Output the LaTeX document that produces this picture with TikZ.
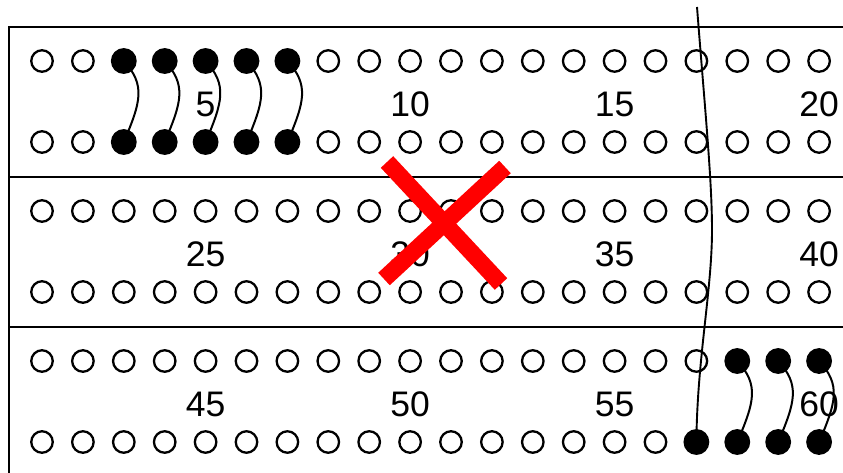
\documentclass[tikz,border=0pt]{standalone}
\usepackage{fontspec}
\setmainfont{Liberation Sans}
\begin{document}
\begin{tikzpicture}[x=1pt,y=-1pt,
  frame/.style={line width=2.4pt},
  hole/.style={circle,draw,line width=2.3pt,minimum size=21.5pt,inner sep=0pt},
  filled/.style={fill=black,minimum size=23.5pt},
  wire/.style={line width=2pt},
  lbl/.style={font=\fontsize{35.5}{42}\selectfont,inner sep=0pt},
  cross/.style={red,line width=17pt}]
\clip (0,0) rectangle (843,473);
% frame
\coordinate (f0) at (9,480);
\coordinate (f1) at (9,27);
\coordinate (f1r) at (860,27);
\coordinate (f2) at (9,177);
\coordinate (f2r) at (860,177);
\coordinate (f3) at (9,327);
\coordinate (f3r) at (860,327);
\draw[frame] (f0) -- (f1) -- (f1r);
\draw[frame] (f2) -- (f2r);
\draw[frame] (f3) -- (f3r);
% holes
\foreach \s/\tp in {1/27,2/177,3/327} {
  \foreach \c in {1,...,20} {
    \pgfmathsetmacro\xx{42+(\c-1)*40.9}
    \pgfmathtruncatemacro\fa{or(and(\s==1,and(\c>2,\c<8)),and(\s==3,\c>17))}
    \pgfmathtruncatemacro\fb{or(\fa,and(\s==3,\c==17))}
    \ifnum\fa=1 \def\sta{filled}\else\def\sta{}\fi
    \ifnum\fb=1 \def\stb{filled}\else\def\stb{}\fi
    \node[hole,\sta] (h-\s-1-\c) at (\xx,\tp+34) {};
    \node[hole,\stb] (h-\s-2-\c) at (\xx,\tp+115) {};
  }
}
% labels
\foreach \s/\yy/\base in {1/104/0,2/254/20,3/404/40} {
  \foreach \k in {1,2,3,4} {
    \pgfmathtruncatemacro\num{\base+5*\k}
    \pgfmathsetmacro\xx{42+(5*\k-1)*40.9}
    \node[lbl] (l-\s-\k) at (\xx,\yy) {\num};
  }
}
% wires
\foreach \s/\c in {1/3,1/4,1/5,1/6,1/7,3/18,3/19,3/20}
  \draw[wire] (h-\s-1-\c.center) .. controls +(22,24) and +(17,-40) .. (h-\s-2-\c.center);
% long wire
\coordinate (lt) at (697,7);
\coordinate (lm) at (712,230);
\draw[wire,line width=1.9pt] (lt) .. controls (705,110) and (712,180) .. (lm)
  .. controls (712,290) and (697,360) .. (h-3-2-17.center);
% red cross
\coordinate (xa) at (387,162);
\coordinate (xb) at (501,284);
\coordinate (xc) at (505,167);
\coordinate (xd) at (384,279);
\draw[cross] (xa) -- (xb);
\draw[cross] (xc) -- (xd);
\end{tikzpicture}
\end{document}
